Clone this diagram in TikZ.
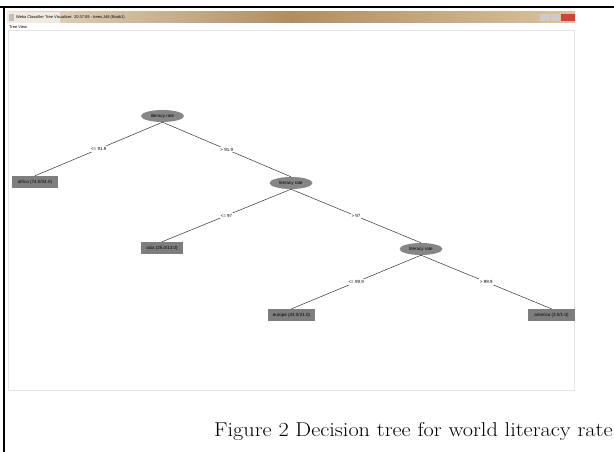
\documentclass[tikz,border=0pt]{standalone}
\usepackage{fontspec}
\setsansfont{Liberation Sans}
\usetikzlibrary{shapes.geometric}
\definecolor{boxgray}{HTML}{7E7E7E}
\definecolor{ellgray}{HTML}{868686}
\definecolor{panelline}{HTML}{E4E4E4}
\definecolor{tanA}{HTML}{E6DCCB}
\definecolor{tanB}{HTML}{B08E62}
\definecolor{tanC}{HTML}{D9C39E}
\definecolor{closered}{HTML}{C9463B}
\begin{document}
\begin{tikzpicture}[x=1pt,y=-1pt,
  splitnode/.style={ellipse,fill=ellgray,draw=none,minimum width=43pt,minimum height=12pt,inner sep=0pt,font=\sffamily\fontsize{4.5}{5}\selectfont},
  leafnode/.style={rectangle,fill=boxgray,draw=none,minimum height=12pt,inner sep=1.5pt,font=\sffamily\fontsize{4.5}{5}\selectfont},
  edgelab/.style={fill=white,inner sep=1pt,font=\sffamily\fontsize{4.5}{5}\selectfont},
  edge/.style={draw=black!80,line width=0.5pt}]
\useasboundingbox (0,0) rectangle (614,452);
\fill[white] (0,0) rectangle (614,452);
% outer frame
\draw[line width=2pt] (0,7) -- (614,7);
\draw[line width=2pt] (4,7) -- (4,452);
% window
\fill[white] (7,12) rectangle (575,390);
\shade[left color=tanA,right color=tanC,middle color=tanB] (7,12) rectangle (575,23);
\fill[tanA!60!white] (7,12) rectangle (60,23);
\node[anchor=west,inner sep=0pt,font=\sffamily\fontsize{4}{5}\selectfont] (title) at (16,17.5) {Weka Classifier Tree Visualizer: 20:37:09 - trees.J48 (Book1)};
\fill[gray!50] (9,14.5) rectangle (14,21);
\fill[gray!40] (540,14) rectangle (550,21);
\fill[gray!40] (551,14) rectangle (560,21);
\fill[closered] (561,14) rectangle (575,21);
\node[anchor=west,inner sep=0pt,font=\sffamily\fontsize{4}{5}\selectfont] (tv) at (9,27) {Tree View};
\draw[panelline,line width=0.6pt] (8,30) rectangle (574,390);
% tree nodes
\node[splitnode] (r) at (162.5,116) {literacy rate};
\node[splitnode] (s) at (291,183) {literacy rate};
\node[splitnode] (t) at (421,249) {literacy rate};
\node[leafnode,minimum width=46pt] (af) at (35,182) {africa (74.0/34.0)};
\node[leafnode,minimum width=42pt] (as) at (162,248) {asia (25.0/13.0)};
\node[leafnode,minimum width=47pt] (eu) at (291.5,315) {europe (43.0/21.0)};
\node[leafnode,minimum width=47pt] (am) at (551.5,315) {america (3.0/1.0)};
% edges
\draw[edge] (r.south) -- node[edgelab]{<= 91.9} (af.north);
\draw[edge] (r.south) -- node[edgelab]{> 91.9} (s.north);
\draw[edge] (s.south) -- node[edgelab]{<= 97} (as.north);
\draw[edge] (s.south) -- node[edgelab]{> 97} (t.north);
\draw[edge] (t.south) -- node[edgelab]{<= 99.9} (eu.north);
\draw[edge] (t.south) -- node[edgelab]{> 99.9} (am.north);
% caption
\node[anchor=west,inner sep=0pt,font=\fontsize{20}{24}\selectfont] (cap) at (214,432) {\scalebox{1.115}[1]{Figure 2 Decision tree for world literacy rate}};
\end{tikzpicture}
\end{document}
